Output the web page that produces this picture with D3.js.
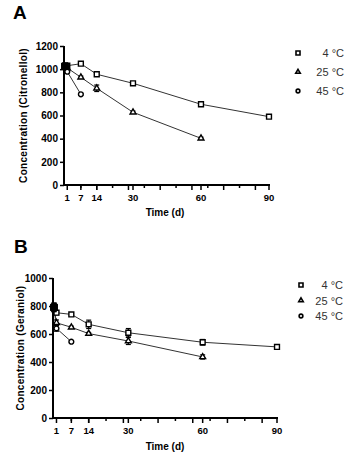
<!DOCTYPE html>
<html><head><meta charset="utf-8">
<script src="https://cdn.jsdelivr.net/npm/d3@7"></script>
<style>
body{margin:0;background:#fff;}
svg{display:block;font-family:Arial,"Liberation Sans",sans-serif;}
</style></head>
<body>
<script>
// ---------- DATA ----------
const seriesNames = ["4 °C", "25 °C", "45 °C"];
const xTickLabels = [1, 7, 14, 30, 60, 90];
const yTicksA = [0, 200, 400, 600, 800, 1000, 1200];
const yTicksB = [0, 200, 400, 600, 800, 1000];

// Panel A (Citronellol)
const daysA4 = [0, 1, 7, 14, 30, 60, 90];
const valsA4 = [1025, 1030, 1047, 956, 878, 697, 590];
const errA4  = [15, 10, 8, 10, 12, 10, 8];
const daysA25 = [0, 1, 7, 14, 30, 60];
const valsA25 = [1025, 1010, 930, 835, 628, 403];
const errA25  = [15, 10, 10, 28, 10, 10];
const daysA45 = [0, 1, 7];
const valsA45 = [1025, 978, 783];
const errA45  = [15, 10, 8];

// Panel B (Geraniol)
const daysB4 = [0, 1, 7, 14, 30, 60, 90];
const valsB4 = [790, 752, 740, 669, 609, 541, 508];
const errB4  = [30, 15, 8, 30, 30, 20, 12];
const daysB25 = [0, 1, 7, 14, 30, 60];
const valsB25 = [790, 680, 648, 603, 550, 436];
const errB25  = [30, 20, 8, 8, 25, 15];
const daysB45 = [0, 1, 7];
const valsB45 = [790, 640, 545];
const errB45  = [30, 20, 8];

// ---------- DRAW ----------
const svg = d3.select("body").append("svg").attr("width", 356).attr("height", 458);

function symbolFor(i){
  return [d3.symbolSquare, d3.symbolTriangle, d3.symbolCircle][i];
}
function symSize(i){ return [24, 15, 18][i]; }

function panel(cfg){
  const g = svg.append("g");
  const x = d3.scaleLinear().domain([0, 90]).range([cfg.x0, cfg.x1]);
  const y = d3.scaleLinear().domain([0, cfg.yMax]).range([cfg.yBottom, cfg.yTop]);

  g.append("text").attr("x", cfg.letterX).attr("y", cfg.letterY)
    .attr("font-size", 19).attr("font-weight", "bold").text(cfg.letter);

  const yAxis = d3.axisLeft(y).tickValues(cfg.yTicks).tickFormat(d3.format("d")).tickSize(4).tickPadding(2);
  const ya = g.append("g").attr("transform", `translate(${cfg.axisX},0)`).call(yAxis);
  ya.select(".domain").attr("stroke", "#000").attr("stroke-width", 2)
    .attr("d", `M0,${cfg.yBottom}V${cfg.yTop}`);
  ya.selectAll(".tick line").attr("stroke-width", 1.5);
  ya.selectAll("text").attr("font-size", 10).attr("font-weight", "bold").attr("fill", "#000");

  const minor = d3.range(7, 91, 14);
  const major = d3.range(14, 91, 14);
  const xa = g.append("g").attr("transform", `translate(0,${cfg.yBottom})`);
  xa.append("path").attr("d", `M${cfg.axisX - 1},0H${x(90) + 1}`).attr("stroke", "#000").attr("stroke-width", 2);
  xa.selectAll("line.minor").data(minor).join("line")
    .attr("x1", d => x(d)).attr("x2", d => x(d)).attr("y1", 0).attr("y2", 3)
    .attr("stroke", "#000").attr("stroke-width", 1.5);
  xa.selectAll("line.major").data(major.concat(xTickLabels)).join("line")
    .attr("x1", d => x(d)).attr("x2", d => x(d)).attr("y1", 0).attr("y2", 5)
    .attr("stroke", "#000").attr("stroke-width", 1.5);
  xa.selectAll("text").data(xTickLabels).join("text")
    .attr("x", d => x(d)).attr("y", 16).attr("text-anchor", "middle")
    .attr("font-size", 9.5).attr("font-weight", "bold").text(d => d);

  g.append("text").attr("x", 165).attr("y", cfg.xTitleY).attr("text-anchor", "middle")
    .attr("font-size", 10).attr("font-weight", "bold").text("Time (d)");
  g.append("text").attr("transform", `translate(${cfg.yTitleX},${(cfg.yTop + cfg.yBottom) / 2}) rotate(-90)`)
    .attr("text-anchor", "middle").attr("font-size", 10).attr("font-weight", "bold")
    .attr("letter-spacing", 0.3).text(cfg.yTitle);

  const line = d3.line().x(d => x(d.d)).y(d => y(d.v));
  const all = cfg.series.map(s => s.days.map((d, k) => ({d, v: s.vals[k], e: s.errs[k]})));
  all.forEach(pts => {
    g.append("path").datum(pts).attr("d", line).attr("fill", "none")
      .attr("stroke", "#333").attr("stroke-width", 1);
  });
  all.forEach((pts, i) => {
    const eb = g.append("g");
    pts.forEach(p => {
      const xx = x(p.d), yt = y(p.v + p.e), yb = y(p.v - p.e);
      eb.append("line").attr("x1", xx).attr("x2", xx).attr("y1", yt).attr("y2", yb)
        .attr("stroke", "#000").attr("stroke-width", 1.2);
      [yt, yb].forEach(yy => eb.append("line").attr("x1", xx - 2.5).attr("x2", xx + 2.5)
        .attr("y1", yy).attr("y2", yy).attr("stroke", "#000").attr("stroke-width", 1.2));
    });
    g.selectAll(null).data(pts.filter(p => p.d > 0)).join("path")
      .attr("transform", p => `translate(${x(p.d)},${y(p.v)})`)
      .attr("d", d3.symbol(symbolFor(i), symSize(i))())
      .attr("fill", "#fff").attr("stroke", "#000").attr("stroke-width", 1.4);
  });
  g.selectAll(null).data(all.map(pts => pts[0])).join("path")
    .attr("transform", p => `translate(${x(p.d)},${y(p.v)})`)
    .attr("d", d3.symbol(d3.symbolSquare, 40)())
    .attr("fill", "#000").attr("stroke", "#000").attr("stroke-width", 1);

  seriesNames.forEach((n, i) => {
    const ly = cfg.legendY + i * cfg.legendStep;
    g.append("path").attr("transform", `translate(${cfg.legendX},${ly})`)
      .attr("d", d3.symbol(symbolFor(i), [16, 9, 11][i])())
      .attr("fill", "#fff").attr("stroke", "#000").attr("stroke-width", 1.6);
    g.append("text").attr("x", cfg.legendTextX).attr("y", ly + 4).attr("text-anchor", "end")
      .attr("font-size", 11).attr("fill", "#333").text(n);
  });
}

panel({
  letter: "A", letterX: 13, letterY: 19,
  x0: 65, x1: 269, axisX: 64,
  yMax: 1200, yTop: 46, yBottom: 185, yTicks: yTicksA,
  xTitleY: 216, yTitleX: 27, yTitle: "Concentration (Citronellol)",
  legendX: 298, legendY: 53, legendStep: 19, legendTextX: 344,
  series: [
    {days: daysA4, vals: valsA4, errs: errA4},
    {days: daysA25, vals: valsA25, errs: errA25},
    {days: daysA45, vals: valsA45, errs: errA45}
  ]
});

panel({
  letter: "B", letterX: 14, letterY: 253,
  x0: 54, x1: 277, axisX: 53,
  yMax: 1000, yTop: 278, yBottom: 418, yTicks: yTicksB,
  xTitleY: 450, yTitleX: 24, yTitle: "Concentration (Geraniol)",
  legendX: 301, legendY: 285, legendStep: 15.5, legendTextX: 343,
  series: [
    {days: daysB4, vals: valsB4, errs: errB4},
    {days: daysB25, vals: valsB25, errs: errB25},
    {days: daysB45, vals: valsB45, errs: errB45}
  ]
});
</script>
</body></html>
